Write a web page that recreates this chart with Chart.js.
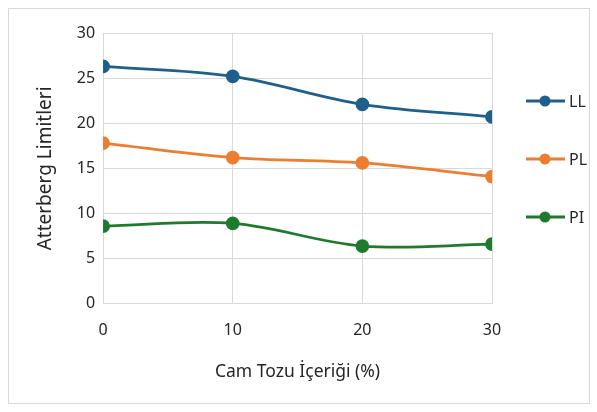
<!DOCTYPE html>
<html>
<head>
<meta charset="utf-8">
<script src="https://cdn.jsdelivr.net/npm/chart.js@4"></script>
<style>
  body { margin: 0; background: #fff; }
  #wrap { width: 597px; height: 412px; }
</style>
</head>
<body>
<div id="wrap"><canvas id="chart" width="597" height="412"></canvas></div>
<script>
const camTozu = [0, 10, 20, 30];
const llValues = [26.3, 25.2, 22.1, 20.7];
const plValues = [17.8, 16.2, 15.6, 14.1];
const piValues = [8.6, 8.9, 6.4, 6.6];
const yTicks = [0, 5, 10, 15, 20, 25, 30];

const seriesNames = ["LL", "PL", "PI"];
const seriesColors = ["#1f5f8c", "#ed7d31", "#1e7a2c"];
const seriesValues = [llValues, plValues, piValues];

const fontFamily = "'Noto Sans', 'Open Sans', sans-serif";

// frame + custom legend (line with dot, stacked on the right)
const frameLegend = {
    id: "frameLegend",
    beforeDraw(chart) {
        const c = chart.ctx;
        c.save();
        c.fillStyle = "#fff";
        c.fillRect(0, 0, chart.width, chart.height);
        c.strokeStyle = "#d9d9d9";
        c.lineWidth = 1;
        c.strokeRect(8.5, 8.5, 581, 395);
        c.restore();
    },
    afterDraw(chart) {
        const c = chart.ctx;
        c.save();
        seriesNames.forEach((name, i) => {
            const y = 101 + i * 58;
            c.strokeStyle = seriesColors[i];
            c.lineWidth = 3;
            c.beginPath();
            c.moveTo(526, y);
            c.lineTo(565, y);
            c.stroke();
            c.fillStyle = seriesColors[i];
            c.beginPath();
            c.arc(545, y, 5.5, 0, Math.PI * 2);
            c.fill();
            c.fillStyle = "#262626";
            c.font = "16px " + fontFamily;
            c.textBaseline = "middle";
            c.fillText(name, 569, y + 1);
        });
        c.restore();
    }
};

new Chart(document.getElementById("chart").getContext("2d"), {
    type: "line",
    data: {
        datasets: seriesNames.map((name, i) => ({
            label: name,
            data: camTozu.map((x, j) => ({ x: x, y: seriesValues[i][j] })),
            borderColor: seriesColors[i],
            backgroundColor: seriesColors[i],
            borderWidth: 2.75,
            pointRadius: 5.5,
            pointHoverRadius: 5.5,
            tension: 0.35,
            fill: false
        }))
    },
    options: {
        responsive: false,
        animation: false,
        layout: { padding: { left: 30, top: 33, right: 105, bottom: 25 } },
        plugins: {
            legend: { display: false },
            tooltip: { enabled: false }
        },
        scales: {
            x: {
                type: "linear",
                min: 0,
                max: 30,
                afterBuildTicks(axis) { axis.ticks = camTozu.map(v => ({ value: v })); },
                grid: { color: "#d9d9d9", lineWidth: 1, drawTicks: false },
                border: { color: "#d9d9d9" },
                ticks: { color: "#262626", font: { size: 16, family: fontFamily }, padding: 17 },
                title: {
                    display: true,
                    text: "Cam Tozu İçeriği (%)",
                    color: "#262626",
                    font: { size: 17.5, family: fontFamily },
                    padding: { top: 5 }
                }
            },
            y: {
                min: 0,
                max: 30,
                afterBuildTicks(axis) { axis.ticks = yTicks.map(v => ({ value: v })); },
                grid: { color: "#d9d9d9", lineWidth: 1, drawTicks: false },
                border: { color: "#d9d9d9" },
                ticks: { color: "#262626", font: { size: 16, family: fontFamily }, padding: 8 },
                title: {
                    display: true,
                    text: "Atterberg Limitleri",
                    color: "#262626",
                    font: { size: 19, family: fontFamily },
                    padding: { bottom: 12 }
                }
            }
        }
    },
    plugins: [frameLegend]
});
</script>
</body>
</html>
